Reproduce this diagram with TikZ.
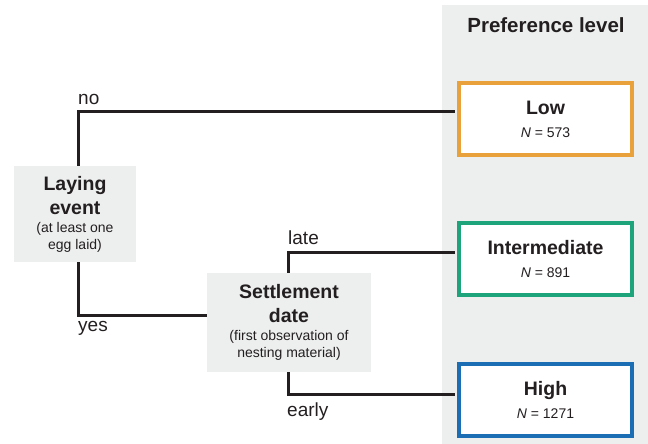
\documentclass[tikz,border=0pt]{standalone}
\usepackage{fontspec}
\setmainfont{Liberation Sans}
\usetikzlibrary{calc}
\definecolor{grau}{HTML}{EDEFEE}
\definecolor{schrift}{HTML}{231F20}
\definecolor{orange}{HTML}{E9A23B}
\definecolor{gruen}{HTML}{1DA47A}
\definecolor{blau}{HTML}{1B6DB4}
\newcommand\titel{\bfseries\fontsize{19.5}{24}\selectfont}
\newcommand\klein{\fontsize{14}{17}\selectfont}

\begin{document}
\begin{tikzpicture}[x=1pt,y=-1pt,
  frage/.style={fill=grau,inner sep=0pt,align=center,text=schrift,font=\klein},
  stufe/.style={draw=#1,line width=4pt,fill=white,minimum width=173pt,minimum height=72pt,inner sep=0pt,align=center,text=schrift,font=\klein},
  zweig/.style={draw=schrift,line width=3pt},
  marke/.style={font=\fontsize{19}{19}\selectfont,text=schrift,inner sep=0pt}]
\useasboundingbox (0,0) rectangle (648,444);
%Spalte rechts mit den drei Stufen
\fill[grau] (442,5) rectangle (648,444);
\node[font=\titel\fontsize{20.5}{24}\selectfont,text=schrift] (kopf) at (546,25) {Preference level};
\node[stufe=orange] (low) at (545.5,119) {{\titel Low}\\[6pt]{\itshape N} = 573};
\node[stufe=gruen] (mittel) at (545.5,259) {{\titel Intermediate}\\[6pt]{\itshape N} = 891};
\node[stufe=blau] (hoch) at (545.5,400) {{\titel High}\\[6pt]{\itshape N} = 1271};
%Fragen links
\node[frage,minimum width=122pt,minimum height=96pt] (legen) at (75,214)
  {{\titel Laying}\\[7pt]{\titel event}\\[1pt](at least one\\egg laid)};
\node[frage,minimum width=164pt,minimum height=99pt] (setzung) at (289,322.5)
  {{\titel Settlement}\\[7pt]{\titel date}\\[1pt](first observation of\\nesting material)};
%Knicke
\coordinate (nein) at (78,111);
\coordinate (ja) at (78,315);
\coordinate (spaet) at (288,252);
\coordinate (frueh) at (288,394);
\draw[zweig,shorten >=2pt] (legen.north -| nein) -- (nein) -- (nein -| low.west);
\draw[zweig] (legen.south -| ja) -- (ja) -- (ja -| setzung.west);
\draw[zweig,shorten >=2pt] (setzung.north -| spaet) -- (spaet) -- (spaet -| mittel.west);
\draw[zweig,shorten >=2pt] (setzung.south -| frueh) -- (frueh) -- (frueh -| hoch.west);
\node[marke,anchor=base west] (nein-l) at ($(nein)+(0,-7)$) {no};
\node[marke,anchor=base west] (ja-l) at ($(ja)+(0,16)$) {yes};
\node[marke,anchor=base west] (spaet-l) at ($(spaet)+(0,-8)$) {late};
\node[marke,anchor=base west] (frueh-l) at ($(frueh)+(-1,22)$) {early};
\end{tikzpicture}
\end{document}
